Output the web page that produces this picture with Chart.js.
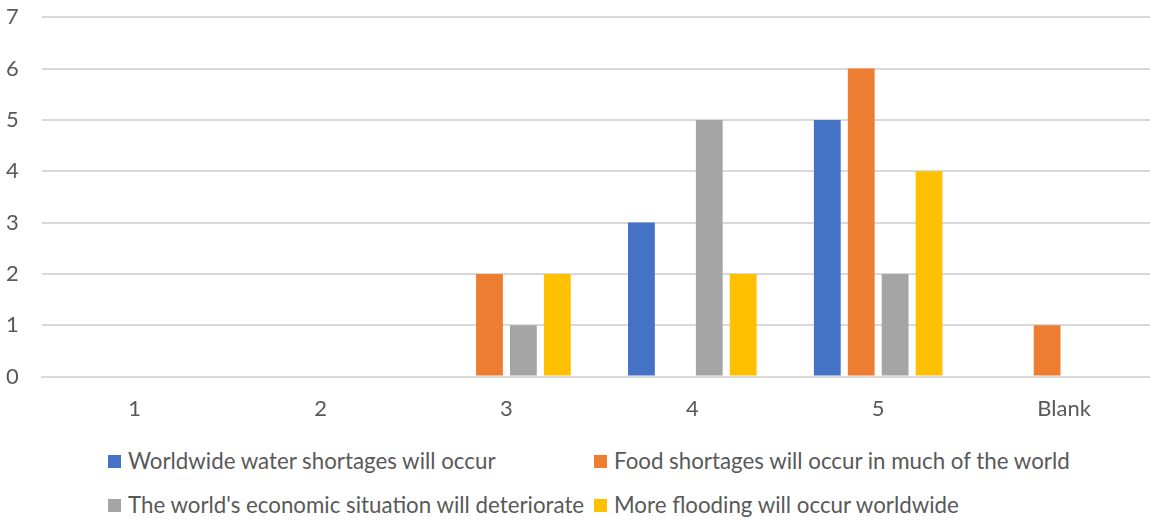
<!DOCTYPE html>
<html>
<head>
<meta charset="utf-8">
<script src="https://cdn.jsdelivr.net/npm/chart.js@4.4.0/dist/chart.umd.min.js"></script>
<style>
  html, body { margin: 0; padding: 0; background: #fff; }
  #wrap { position: relative; width: 1150px; height: 520px; overflow: hidden; }
  #chart { position: absolute; left: 0; top: -19px; }
  .legend-item {
    position: absolute;
    display: flex;
    align-items: center;
    font-family: Lato, "Open Sans", sans-serif;
    font-size: 22.3px;
    color: #595959;
    white-space: nowrap;
    line-height: 1;
  }
  .legend-item span.box {
    display: inline-block;
    width: 13px;
    height: 13px;
    margin-right: 7px;
  }
</style>
</head>
<body>
<div id="wrap">
  <canvas id="chart" width="1157" height="452"></canvas>
  <div id="legend"></div>
</div>
<script>
const categories = ['1', '2', '3', '4', '5', 'Blank']
const waterShortages = [0, 0, 0, 3, 5, 0]
const foodShortages = [0, 0, 2, 0, 6, 1]
const economyWorse = [0, 0, 1, 5, 2, 0]
const moreFlooding = [0, 0, 2, 2, 4, 0]
const yTicks = [0, 1, 2, 3, 4, 5, 6, 7]

const series = [
  { label: 'Worldwide water shortages will occur', data: waterShortages, color: '#4472C4' },
  { label: 'Food shortages will occur in much of the world', data: foodShortages, color: '#ED7D31' },
  { label: "The world's economic situation will deteriorate", data: economyWorse, color: '#A5A5A5' },
  { label: 'More flooding will occur worldwide', data: moreFlooding, color: '#FFC000' }
]

const textColor = '#595959'
const font = { family: 'Lato, "Open Sans", sans-serif', size: 22 }

const ctx = document.getElementById('chart').getContext('2d')
new Chart(ctx, {
  type: 'bar',
  data: {
    labels: categories,
    datasets: series.map(s => ({
      label: s.label,
      data: s.data,
      backgroundColor: s.color,
      borderWidth: 0,
      categoryPercentage: 0.73,
      barPercentage: 0.79
    }))
  },
  options: {
    responsive: false,
    animation: false,
    layout: { padding: { left: -17, right: 0, top: -10, bottom: 0 } },
    plugins: {
      legend: { display: false },
      tooltip: { enabled: false }
    },
    scales: {
      x: {
        grid: { display: false },
        border: { display: true, color: '#d9d9d9', width: 2 },
        ticks: { color: textColor, font: font, padding: 11 }
      },
      y: {
        min: 0,
        max: yTicks[yTicks.length - 1],
        afterBuildTicks: axis => { axis.ticks = yTicks.map(v => ({ value: v })) },
        grid: { color: '#d9d9d9', lineWidth: 2, drawTicks: false },
        border: { display: false },
        ticks: { color: textColor, font: font, padding: 23 }
      }
    }
  }
})

// legend laid out in two aligned columns
const legendPos = [
  { x: 108, y: 450 }, { x: 594, y: 450 },
  { x: 108, y: 494 }, { x: 594, y: 494 }
]
const legend = document.getElementById('legend')
series.forEach((s, i) => {
  const item = document.createElement('div')
  item.className = 'legend-item'
  item.style.left = legendPos[i].x + 'px'
  item.style.top = legendPos[i].y + 'px'
  item.innerHTML = `<span class="box" style="background:${s.color}"></span>`
  item.appendChild(document.createTextNode(s.label))
  legend.appendChild(item)
})
</script>
</body>
</html>
